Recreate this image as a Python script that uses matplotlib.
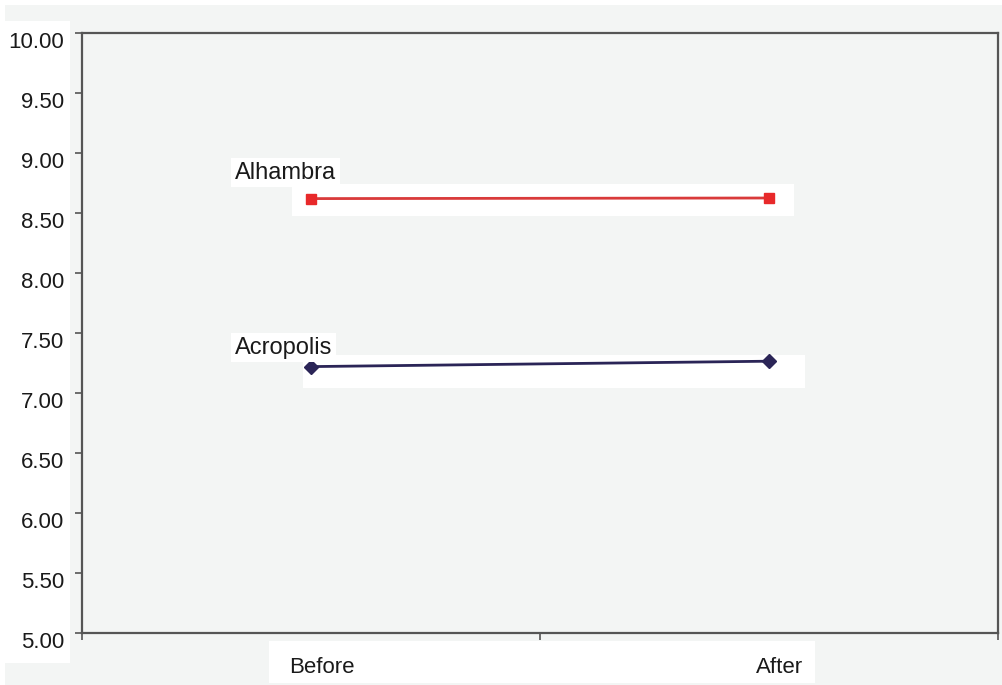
import matplotlib.pyplot as plt
from matplotlib.patches import Rectangle
import matplotlib.transforms as mtransforms

# data
periods = ['Before', 'After']
alhambra = [8.62, 8.625]
acropolis = [7.22, 7.265]
y_ticks = [5.0, 5.5, 6.0, 6.5, 7.0, 7.5, 8.0, 8.5, 9.0, 9.5, 10.0]

W, H = 1002, 685
bg = '#f3f5f4'

plt.rcParams['font.family'] = ['Liberation Sans', 'DejaVu Sans']

fig = plt.figure(figsize=(W / 100, H / 100), dpi=100)
fig.patch.set_facecolor('white')


def px_rect(x0, y0, x1, y1, color):
    # rectangle given in pixel coords from top-left
    return Rectangle((x0 / W, 1 - y1 / H), (x1 - x0) / W, (y1 - y0) / H,
                     transform=fig.transFigure, facecolor=color,
                     edgecolor='none', zorder=0)


# grey page background with white patches behind the labels
fig.patches.append(px_rect(5, 5, W, H, bg))
fig.patches.append(px_rect(5, 21, 70, 663, 'white'))
fig.patches.append(px_rect(269, 641, 815, 683, 'white'))

ax = fig.add_axes([82 / W, 1 - 633 / H, (998 - 82) / W, (633 - 33) / H])
ax.set_facecolor(bg)
ax.set_zorder(1)

x = list(range(len(periods)))

# white strips behind the series lines
ax.add_patch(Rectangle((292 / W, 1 - 216 / H), (794 - 292) / W, 32 / H,
                       transform=fig.transFigure, facecolor='white',
                       edgecolor='none', zorder=1))
ax.add_patch(Rectangle((303 / W, 1 - 388 / H), (805 - 303) / W, 33 / H,
                       transform=fig.transFigure, facecolor='white',
                       edgecolor='none', zorder=1))

ax.plot(x, alhambra, color='#d93a3a', linewidth=2, marker='s',
        markersize=7.5, markerfacecolor='#e8292a', markeredgecolor='#e8292a',
        zorder=3)
ax.plot(x, acropolis, color='#2b2557', linewidth=2, marker='D',
        markersize=7.5, markerfacecolor='#2b2557', markeredgecolor='#2b2557',
        zorder=3)

ax.annotate('Alhambra', xy=(x[0], alhambra[0]), xytext=(-76, 26),
            textcoords='offset pixels', ha='left', va='center', fontsize=17,
            color='#1a1a1a', zorder=4,
            bbox=dict(boxstyle='square,pad=0.15', facecolor='white',
                      edgecolor='none'))
ax.annotate('Acropolis', xy=(x[0], acropolis[0]), xytext=(-76, 19),
            textcoords='offset pixels', ha='left', va='center', fontsize=17,
            color='#1a1a1a', zorder=4,
            bbox=dict(boxstyle='square,pad=0.15', facecolor='white',
                      edgecolor='none'))

ax.set_xlim(-0.5, 1.5)
ax.set_ylim(5, 10)

ax.set_yticks(y_ticks)
ax.set_yticklabels([f'{v:.2f}' for v in y_ticks], fontsize=16, color='#1a1a1a')
ax.tick_params(axis='y', direction='out', length=5, width=1.2,
               color='#555555', pad=8)
# nudge the y labels a little downward
shift = mtransforms.ScaledTranslation(0, -7 / 100, fig.dpi_scale_trans)
for lab in ax.get_yticklabels():
    lab.set_transform(lab.get_transform() + shift)

ax.set_xticks(x)
ax.set_xticklabels(periods, fontsize=16, color='#1a1a1a')
ax.tick_params(axis='x', which='major', length=0, pad=17)
xshift = mtransforms.ScaledTranslation(11 / 100, 0, fig.dpi_scale_trans)
for lab in ax.get_xticklabels():
    lab.set_transform(lab.get_transform() + xshift)
ax.set_xticks([-0.5, 0.5, 1.5], minor=True)
ax.tick_params(axis='x', which='minor', direction='out', length=5,
               width=1.2, color='#555555')

for sp in ax.spines.values():
    sp.set_color('#555555')
    sp.set_linewidth(1.6)

fig.savefig('out.png', dpi=100, facecolor=fig.get_facecolor())
